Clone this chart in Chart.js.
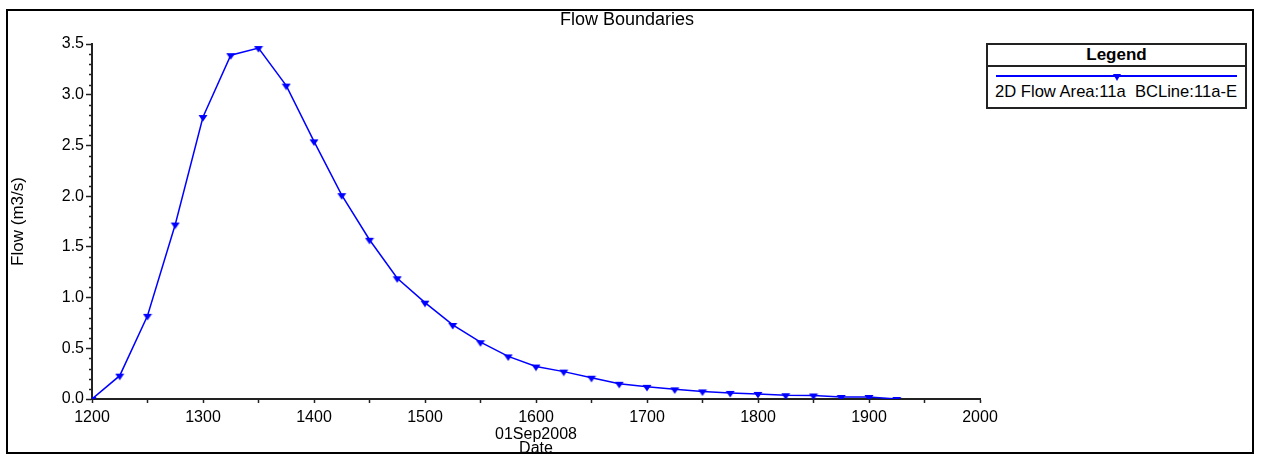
<!DOCTYPE html>
<html>
<head>
<meta charset="utf-8">
<script src="https://cdn.jsdelivr.net/npm/chart.js@4/dist/chart.umd.min.js"></script>
<style>
  body { margin: 0; background: #fff; }
  #wrap { position: relative; width: 1265px; height: 457px; }
  #frame {
    position: absolute; left: 6px; top: 9px; width: 1244px; height: 441px;
    border: 2px solid #000;
  }
  #legend {
    position: absolute; left: 986px; top: 43px; width: 261px; height: 66px;
    box-sizing: border-box; border: 2px solid #222; background: #fff;
    font-family: "Liberation Sans", Arial, sans-serif; color: #000;
  }
  #legend .head {
    height: 22px; box-sizing: border-box; border-bottom: 2px solid #222;
    text-align: center; font-weight: bold; font-size: 17px; line-height: 20px;
  }
  #legend .line { position: absolute; left: 8px; top: 30px; width: 241px; height: 1.5px; background: #0000ff; }
  #legend .mark {
    position: absolute; left: 125px; top: 29px; width: 0; height: 0;
    border-left: 4px solid transparent; border-right: 4px solid transparent; border-top: 7px solid #0000ff;
  }
  #legend .text { position: absolute; left: 7px; top: 38px; font-size: 16.6px; line-height: 18px; white-space: pre; }
</style>
</head>
<body>
<div id="wrap">
  <canvas id="FlowChart" width="1265" height="457"></canvas>
  <div id="frame"></div>
  <div id="legend">
    <div class="head">Legend</div>
    <div class="line"></div>
    <div class="mark"></div>
    <div class="text">2D Flow Area:11a  BCLine:11a-E</div>
  </div>
</div>
<script>
const times = [1200, 1225, 1250, 1275, 1300, 1325, 1350, 1375, 1400, 1425,
  1450, 1475, 1500, 1525, 1550, 1575, 1600, 1625, 1650, 1675,
  1700, 1725, 1750, 1775, 1800, 1825, 1850, 1875, 1900, 1925];
const flows = [0, 0.23, 0.82, 1.72, 2.78, 3.39, 3.46, 3.09, 2.54, 2.01,
  1.57, 1.19, 0.95, 0.73, 0.56, 0.42, 0.32, 0.27, 0.21, 0.15,
  0.12, 0.095, 0.075, 0.06, 0.05, 0.037, 0.035, 0.02, 0.02, 0];
const xTicks = [1200, 1300, 1400, 1500, 1600, 1700, 1800, 1900, 2000];
const yTicks = [0, 0.5, 1.0, 1.5, 2.0, 2.5, 3.0, 3.5];

const FONT = "'Liberation Sans', Arial, sans-serif";
const AXIS = "#222";

//Triangle marker, drawn a bit below the point like the original
function makeMarker() {
  const c = document.createElement("canvas");
  c.width = 10;
  c.height = 10;
  const g = c.getContext("2d");
  g.fillStyle = "#0000ff";
  g.beginPath();
  g.moveTo(0.5, 3);
  g.lineTo(9.5, 3);
  g.lineTo(5, 9.5);
  g.closePath();
  g.fill();
  return c;
}

//Minor ticks on the y axis (every 0.1)
const minorTicks = {
  id: "minorTicks",
  afterDraw(chart) {
    const { ctx } = chart;
    const y = chart.scales.y;
    ctx.save();
    ctx.strokeStyle = AXIS;
    ctx.lineWidth = 1.5;
    for (let i = 0; i <= 35; i++) {
      if (i % 5 === 0) continue;
      const py = Math.round(y.getPixelForValue(i / 10)) + 0.5;
      ctx.beginPath();
      ctx.moveTo(y.right - 3, py);
      ctx.lineTo(y.right, py);
      ctx.stroke();
    }
    ctx.restore();
  },
};

const ctx = document.getElementById("FlowChart").getContext("2d");
new Chart(ctx, {
  type: "line",
  data: {
    datasets: [
      {
        label: "2D Flow Area:11a  BCLine:11a-E",
        data: times.map((t, i) => ({ x: t, y: flows[i] })),
        borderColor: "#0000ff",
        borderWidth: 1.5,
        pointStyle: makeMarker(),
        pointRadius: 4,
        tension: 0,
      },
    ],
  },
  options: {
    responsive: false,
    animation: false,
    devicePixelRatio: 1,
    layout: { padding: { left: 0, top: 0, right: 11, bottom: 0 } },
    plugins: {
      legend: { display: false },
      tooltip: { enabled: false },
      title: {
        display: true,
        text: "Flow Boundaries",
        color: "#000",
        font: { family: FONT, size: 18, weight: "normal" },
        padding: { top: 9, bottom: 13.4 },
      },
    },
    scales: {
      x: {
        type: "linear",
        min: xTicks[0],
        max: xTicks[xTicks.length - 1],
        afterFit(s) { s.height = 58; },
        border: { display: true, color: AXIS, width: 2 },
        grid: { drawOnChartArea: false, drawTicks: true, tickLength: 4, tickColor: AXIS, tickWidth: 1.5 },
        ticks: {
          stepSize: 50,
          autoSkip: false,
          maxRotation: 0,
          padding: 5,
          color: "#000",
          font: { family: FONT, size: 16 },
          callback: (v) => (xTicks.includes(v) ? String(v) : ""),
        },
        title: {
          display: true,
          text: ["01Sep2008", "Date"],
          color: "#000",
          font: { family: FONT, size: 16, lineHeight: 0.875 },
          padding: { top: 0, bottom: 1 },
        },
      },
      y: {
        type: "linear",
        min: yTicks[0],
        max: yTicks[yTicks.length - 1],
        afterFit(s) { s.width = 92; },
        border: { display: true, color: AXIS, width: 2 },
        grid: { drawOnChartArea: false, drawTicks: true, tickLength: 6, tickColor: AXIS, tickWidth: 1.5 },
        ticks: {
          stepSize: 0.5,
          padding: 2,
          color: "#000",
          font: { family: FONT, size: 16 },
          callback: (v) => Number(v).toFixed(1),
        },
        title: {
          display: true,
          text: "Flow (m3/s)",
          color: "#000",
          font: { family: FONT, size: 17 },
          padding: { top: 8, bottom: 0 },
        },
      },
      pad: {
        type: "linear",
        position: "right",
        display: true,
        afterFit(s) { s.width = 274; },
        border: { display: false },
        grid: { display: false },
        ticks: { display: false },
      },
    },
  },
  plugins: [minorTicks],
});
</script>
</body>
</html>
